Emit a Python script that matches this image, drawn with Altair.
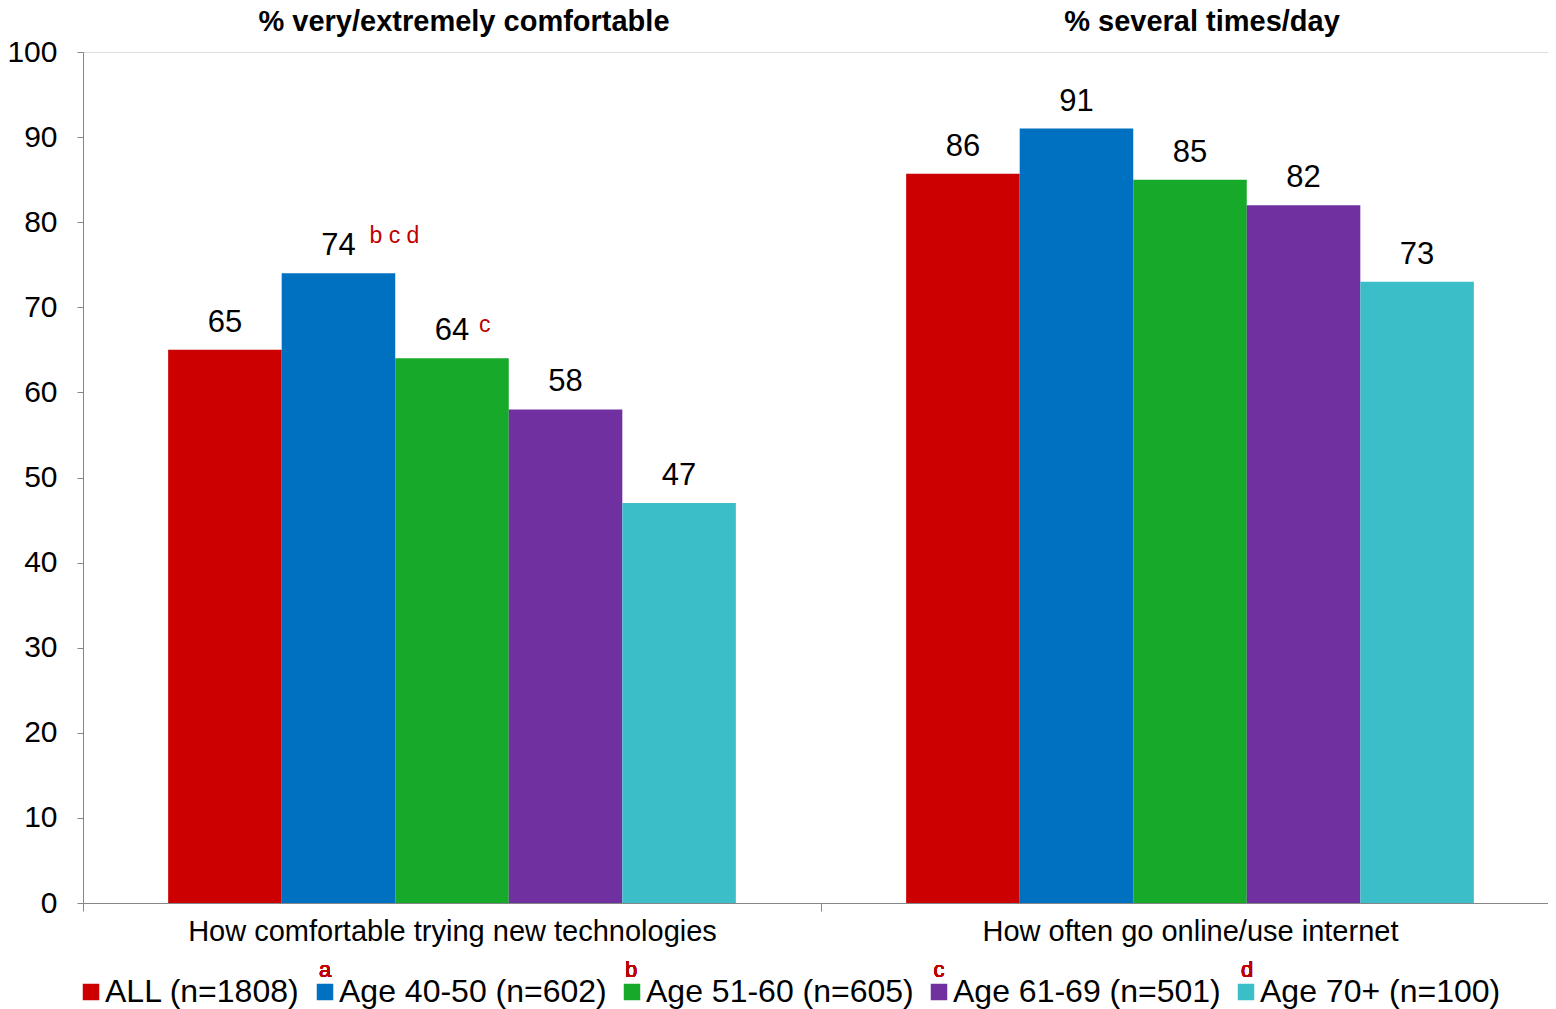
import altair as alt
import pandas as pd

questions = ["How comfortable trying new technologies", "How often go online/use internet"]
panel_titles = ["% very/extremely comfortable", "% several times/day"]
groups = ["ALL (n=1808)", "Age 40-50 (n=602)", "Age 51-60 (n=605)",
          "Age 61-69 (n=501)", "Age 70+ (n=100)"]
values_q1 = [65, 74, 64, 58, 47]
values_q2 = [85.7, 91, 85, 82, 73]
notes_q1 = ["", "b c d", "c", "", ""]
notes_q2 = ["", "", "", "", ""]
legend_letters = ["a", "b", "c", "d"]

colors = ["#CC0000", "#0070C0", "#17AA2A", "#7030A0", "#3BBEC7"]
RED = "#C00000"
FONT = "Liberation Sans"

rows = []
for q, vals, notes in [(questions[0], values_q1, notes_q1), (questions[1], values_q2, notes_q2)]:
    for g, v, n in zip(groups, vals, notes):
        rows.append({"question": q, "group": g, "value": v, "note": n})
df = pd.DataFrame(rows)
titles_df = pd.DataFrame({"question": questions, "title": panel_titles})

x_enc = alt.X("question:N", sort=questions,
              scale=alt.Scale(paddingInner=0, paddingOuter=0, range=[0, 1476]),
              axis=alt.Axis(title=None, labelAngle=0, labelFontSize=29, labelColor="black",
                            tickBand="extent", tickSize=8, labelPadding=6, labelLimit=2000,
                            domainColor="#868686", tickColor="#868686", labelFont=FONT))
xo_enc = alt.XOffset("group:N", sort=groups,
                     scale=alt.Scale(paddingInner=0, paddingOuter=0.75))
y_enc = alt.Y("value:Q", scale=alt.Scale(domain=[0, 100], nice=False),
              axis=alt.Axis(title=None, values=list(range(0, 101, 10)), grid=False,
                            labelFontSize=30, labelColor="black", tickSize=6, labelPadding=20,
                            domainColor="#868686", tickColor="#868686", labelFont=FONT))

base = alt.Chart(df).encode(x=x_enc, xOffset=xo_enc, y=y_enc)

bars = base.mark_bar().encode(
    color=alt.Color("group:N", sort=groups,
                    scale=alt.Scale(domain=groups, range=colors),
                    legend=alt.Legend(title=None, orient="none", direction="horizontal",
                                      legendX=-8, legendY=924, symbolType="square",
                                      symbolSize=272, symbolStrokeWidth=0,
                                      labelFontSize=32, labelFont=FONT, labelColor="black",
                                      labelOffset={"expr": "-2"}, columnPadding=9, padding=0,
                                      labelLimit=1000))
)

labels = base.mark_text(baseline="alphabetic", dy=-18, fontSize=31, font=FONT, color="black").encode(
    text=alt.Text("value:Q", format=".0f")
)

note1 = base.transform_filter("datum.note == 'b c d'").mark_text(
    align="left", baseline="alphabetic", dx=31, dy=-30, fontSize=23, font=FONT, color=RED
).encode(text="note:N")
note2 = base.transform_filter("datum.note == 'c'").mark_text(
    align="left", baseline="alphabetic", dx=27, dy=-26, fontSize=23, font=FONT, color=RED
).encode(text="note:N")

titles = alt.Chart(titles_df).mark_text(
    baseline="alphabetic", dx=12, fontSize=29, fontWeight="bold", font=FONT, color="black"
).encode(x=alt.X("question:N", sort=questions), y=alt.value(-21), text="title:N")

letter_x = [242, 548, 856, 1164]
letter_layers = [
    alt.Chart(df).mark_text(baseline="alphabetic", fontSize=22, font=FONT, color=RED).encode(
        x=alt.value(px), y=alt.value(925), text=alt.value(t))
    for px, t in zip(letter_x, legend_letters)
]

chart = alt.layer(bars, labels, note1, note2, titles, *letter_layers).properties(
    width=1465, height=851,
    autosize=alt.AutoSizeParams(type="none"),
    padding={"left": 75, "top": 44, "right": 0, "bottom": 108},
).configure_view(stroke=None).configure(font=FONT)

chart.save("out.html", embed_options={"renderer": "svg", "actions": False})
